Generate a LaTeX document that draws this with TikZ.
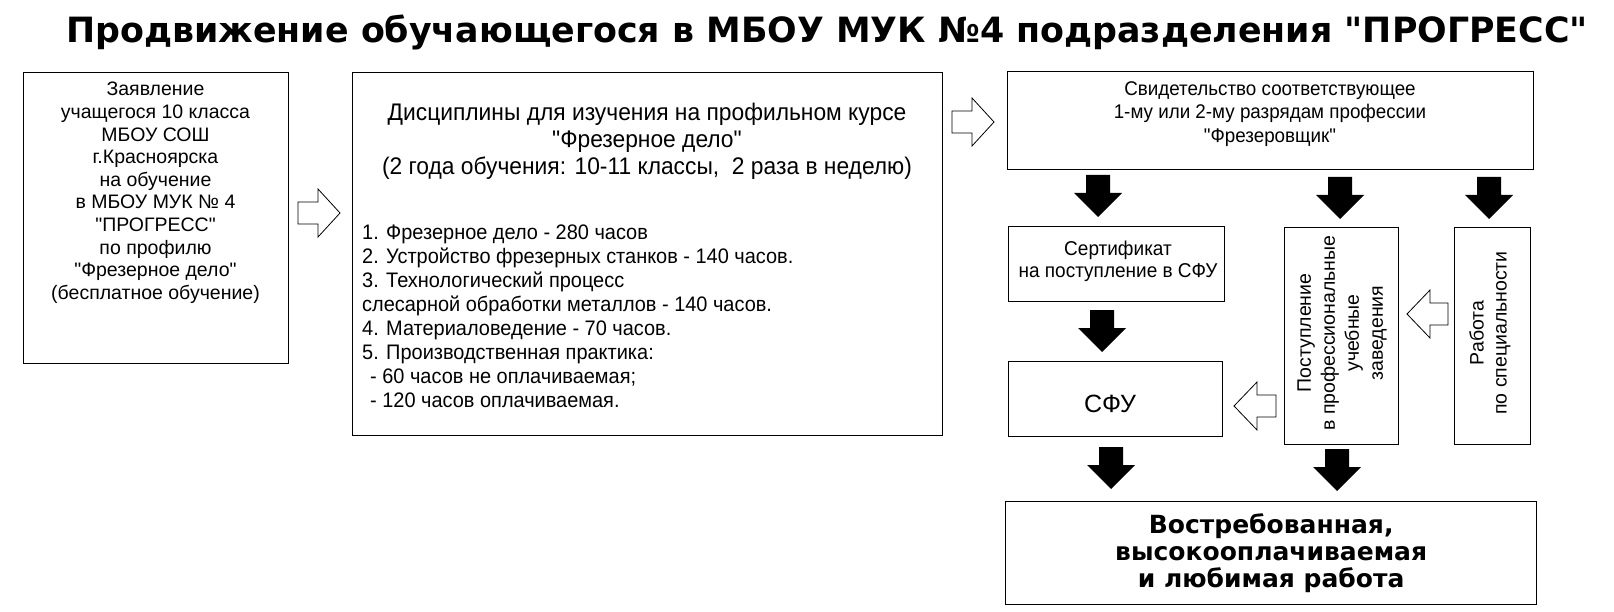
\documentclass[tikz,border=0pt]{standalone}
\usepackage{fontspec}
\setmainfont{Liberation Sans}[Ligatures=TeXOff]
\newfontfamily\narrowfont{Liberation Sans}[FakeStretch=0.95,Ligatures=TeXOff]
\newfontfamily\dejavu{DejaVu Sans}[Ligatures=TeXOff]
\newcommand\blockdown[2]{%
  \fill[black] (#1-12,#2) -- (#1+12,#2) -- (#1+12,#2+18) -- (#1+24,#2+18)
    -- (#1,#2+42) -- (#1-24,#2+18) -- (#1-12,#2+18) -- cycle;}
% left x, tip x, centre y
\newcommand\hollowright[3]{%
  \draw[hollow] (#1,#3-11) -- (#2-22,#3-11) -- (#2-22,#3-24) -- (#2,#3)
    -- (#2-22,#3+24) -- (#2-22,#3+11) -- (#1,#3+11) -- cycle;}
% right x, tip x, centre y
\newcommand\hollowleft[3]{%
  \draw[hollow] (#1,#3-11) -- (#2+23,#3-11) -- (#2+23,#3-24) -- (#2,#3)
    -- (#2+23,#3+24) -- (#2+23,#3+11) -- (#1,#3+11) -- cycle;}
\begin{document}
\begin{tikzpicture}[x=1pt,y=-1pt,
  box/.style={draw,line width=1.3pt,inner sep=0pt,anchor=north west},
  txt/.style={inner sep=0pt,align=center},
  hollow/.style={draw=black,fill=white,line width=0.8pt,line join=miter}]
\useasboundingbox (0,0) rectangle (1614,612);

\node[txt,font=\dejavu\bfseries\fontsize{34.8}{40}\selectfont] (title) at (827,32) {Продвижение обучающегося в МБОУ МУК №4 подразделения "ПРОГРЕСС"};

% boxes
\node[box,minimum width=265pt,minimum height=291pt] (b1) at (23,72) {};
\node[box,minimum width=590pt,minimum height=363pt] (b2) at (352,72) {};
\node[box,minimum width=526pt,minimum height=98pt] (b3) at (1007,71) {};
\node[box,minimum width=216pt,minimum height=75pt] (cert) at (1008,226) {};
\node[box,minimum width=114pt,minimum height=217pt] (post) at (1284,227) {};
\node[box,minimum width=76pt,minimum height=217pt] (work) at (1454,227) {};
\node[box,minimum width=214pt,minimum height=75pt] (sfu) at (1008,361) {};
\node[box,minimum width=531pt,minimum height=103pt] (final) at (1005,501) {};

% texts
\node[txt,anchor=north,font=\fontsize{19.5}{22.6}\selectfont] (t1) at (155.5,82) {Заявление\\учащегося 10 класса\\МБОУ СОШ\\г.Красноярска\\на обучение\\в МБОУ МУК № 4\\"ПРОГРЕСС"\\по профилю\\"Фрезерное дело"\\(бесплатное обучение)};

\node[txt,font=\narrowfont\fontsize{24}{27}\selectfont] (t2a) at (647,141) {Дисциплины для изучения на профильном курсе\\"Фрезерное дело"\\(2 года обучения: 10-11 классы,\ \ 2 раза в неделю)};

\node[txt,align=left,anchor=north west,font=\narrowfont\fontsize{21}{24}\selectfont] (t2b) at (362,224.5) {1. Фрезерное дело - 280 часов\\2. Устройство фрезерных станков - 140 часов.\\3. Технологический процесс\\слесарной обработки металлов - 140 часов.\\4. Материаловедение - 70 часов.\\5. Производственная практика:\\\hspace*{8pt}- 60 часов не оплачиваемая;\\\hspace*{8pt}- 120 часов оплачиваемая.};

\node[txt,font=\narrowfont\fontsize{19.8}{23.5}\selectfont] (t3) at (1270,114) {Свидетельство соответствующее\\1-му или 2-му разрядам профессии\\"Фрезеровщик"};

\node[txt,font=\narrowfont\fontsize{20}{22}\selectfont] (tcert) at (1118,261) {Сертификат\\на поступление в СФУ};

\node[txt,font=\fontsize{25}{28}\selectfont] (tsfu) at (1110,404) {СФУ};

\node[txt,rotate=90,font=\fontsize{19.5}{24}\selectfont] (tpost) at (1342,333) {Поступление\\в профессиональные\\учебные\\заведения};

\node[txt,rotate=90,font=\fontsize{19.5}{23}\selectfont] (twork) at (1490,333) {Работа\\по специальности};

\node[txt,font=\dejavu\bfseries\fontsize{25}{27}\selectfont] (tfinal) at (final.center) {Востребованная,\\высокооплачиваемая\\и любимая работа};

% hollow arrows
\hollowright{298}{340}{213}
\hollowright{952}{994}{122}
\hollowleft{1448}{1407}{314}
\hollowleft{1276}{1234}{406}

% black arrows
\blockdown{1098}{175}
\blockdown{1340}{177}
\blockdown{1489}{177}
\blockdown{1102}{310}
\blockdown{1111}{447}
\blockdown{1337}{449}
\end{tikzpicture}
\end{document}
